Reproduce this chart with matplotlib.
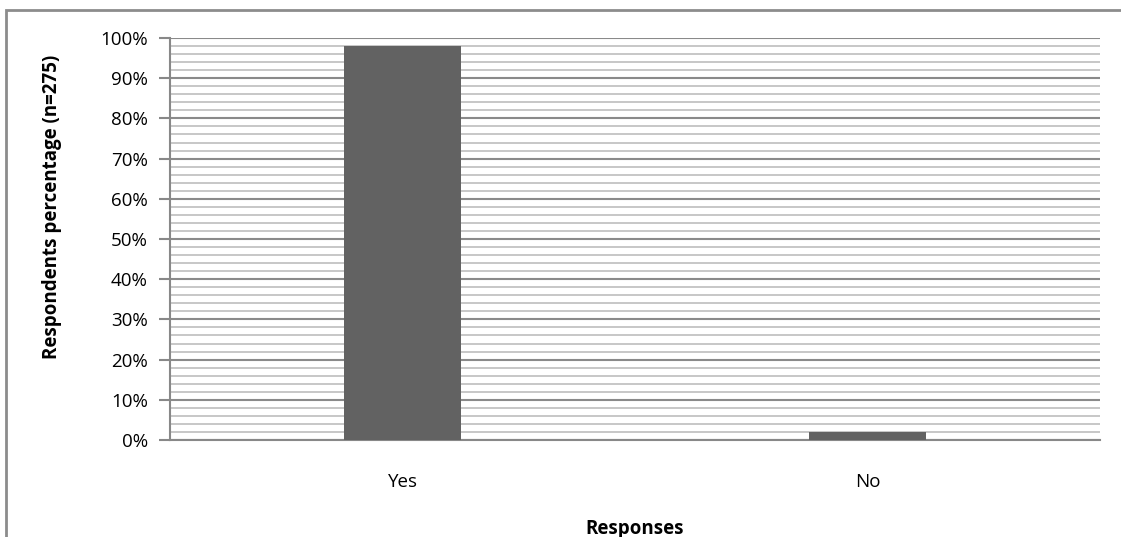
import matplotlib.pyplot as plt
from matplotlib.ticker import MultipleLocator, PercentFormatter
from matplotlib.patches import Rectangle

categories = ['Yes', 'No']
percentages = [98, 2]
y_ticks = list(range(0, 101, 10))

plt.rcParams['font.family'] = ['Open Sans', 'DejaVu Sans']

fig = plt.figure(figsize=(11.21, 5.37), dpi=100)
ax = fig.add_axes([170 / 1121, 1 - 440 / 537, 930 / 1121, 402 / 537])

x = range(len(categories))
ax.bar(x, percentages, width=0.25, color='#626262', zorder=3)

ax.set_xlim(-0.5, 1.5)
ax.set_ylim(0, 100)
ax.set_xticks(list(x))
ax.set_xticklabels(categories, fontsize=13.5)
ax.set_yticks(y_ticks)
ax.yaxis.set_major_formatter(PercentFormatter(decimals=0))
ax.yaxis.set_minor_locator(MultipleLocator(2))
ax.tick_params(axis='y', labelsize=13.5, length=8, width=1.5, color='#888888', pad=8)
ax.tick_params(axis='y', which='minor', length=0)
ax.tick_params(axis='x', length=0, pad=24)

ax.grid(axis='y', which='major', color='#8a8a8a', linewidth=1.5, zorder=0)
ax.grid(axis='y', which='minor', color='#bdbdbd', linewidth=1.2, zorder=0)
ax.set_axisbelow(True)

for side in ['top', 'right']:
    ax.spines[side].set_visible(False)
ax.spines['left'].set_color('#888888')
ax.spines['left'].set_linewidth(1.5)
ax.spines['bottom'].set_color('#888888')
ax.spines['bottom'].set_linewidth(1.5)

ax.set_xlabel('Responses', fontsize=13.5, fontweight='bold', labelpad=20)
ax.set_ylabel('Respondents percentage (n=275)', fontsize=13.5, fontweight='bold')
ax.yaxis.set_label_coords(-0.116, 0.58)

# outer chart frame
fig.patches.append(Rectangle((6 / 1121, -0.1), 1.2, 1 - 10 / 537 + 0.1,
                             transform=fig.transFigure, fill=False,
                             edgecolor='#8c8c8c', linewidth=2))

fig.savefig('out.png', dpi=100)
